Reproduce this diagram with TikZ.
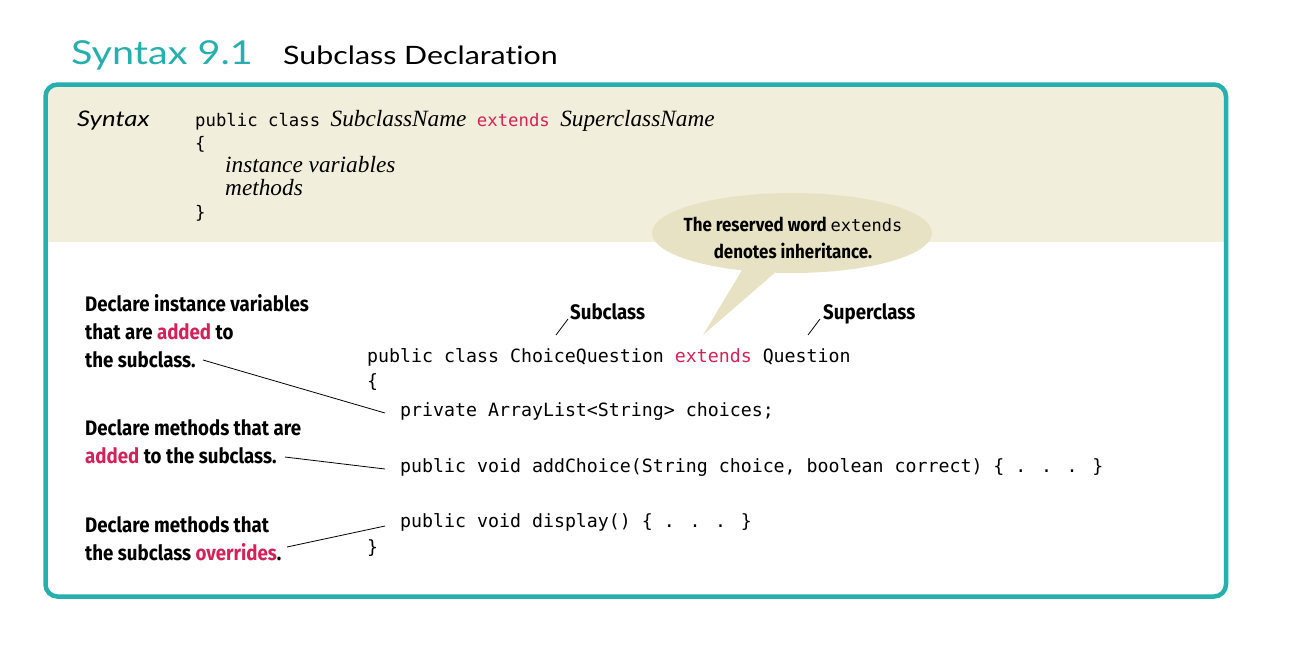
\documentclass[tikz,border=0pt]{standalone}
\usepackage{fontspec}
\usetikzlibrary{shapes.callouts,calc}
\newfontfamily\titlefont{Lato}[FakeStretch=1.2, Ligatures=NoCommon]
\newfontfamily\codefont{DejaVu Sans Mono}
\newfontfamily\annofont{Fira Sans}[FakeStretch=0.89]
\newfontfamily\itserif{Liberation Serif}
\definecolor{synteal}{HTML}{27AFAD}
\definecolor{synred}{HTML}{D2225A}
\definecolor{hdrbeige}{HTML}{F2EEDC}
\definecolor{bubbeige}{HTML}{E7E2C3}
\newcommand\redkw[1]{\textcolor{synred}{#1}}
\newcommand\itname[1]{{\itserif\itshape\fontsize{23.3}{23.3}\selectfont #1}}
\begin{document}
\begin{tikzpicture}[x=1pt,y=-1pt,
  titlea/.style={anchor=base west, inner sep=0, text=synteal, font=\titlefont\fontsize{33}{33}\selectfont},
  titleb/.style={anchor=base west, inner sep=0, font=\titlefont\fontsize{25.3}{25.3}\selectfont},
  hcode/.style={anchor=base west, inner sep=0, font=\codefont\fontsize{17.3}{17.3}\selectfont},
  hit/.style={anchor=base west, inner sep=0, font=\itserif\itshape\fontsize{23.3}{23.3}\selectfont},
  code/.style={anchor=base west, inner sep=0, font=\codefont\fontsize{18.25}{18.25}\selectfont},
  anno/.style={anchor=north west, inner sep=0, align=left, font=\annofont\bfseries\fontsize{21}{28}\selectfont},
  lbl/.style={anchor=base west, inner sep=0, font=\annofont\bfseries\fontsize{21}{21}\selectfont},
  lead/.style={draw=black, line width=0.8pt}]
\useasboundingbox (0,0) rectangle (1289,646);
% title
\node[titlea] (t1) at (71,64) {Syntax 9.1};
\node[titleb] (t2) at (283,64) {Subclass Declaration};
% frame
\fill[hdrbeige, rounded corners=12] (45.5,84.5) rectangle (1226,270);
\fill[white] (45.5,242) rectangle (1226,300);
\draw[synteal, line width=4.5, rounded corners=12] (45.5,84.5) rectangle (1226,596.5);
% header syntax
\node[anchor=base west, inner sep=0, font=\titlefont\itshape\fontsize{21.5}{21.5}\selectfont] (syn) at (77,126) {Syntax};
\node[hcode] (h1) at (195,126) {public class \itname{SubclassName} \redkw{extends} \itname{SuperclassName}};
\node[hcode] (h2) at (195,149) {\{};
\node[hit] (h3) at (225,172) {instance variables};
\node[hit] (h4) at (225,195) {methods};
\node[hcode] (h5) at (195,218) {\}};
% callout
\node[ellipse callout, fill=bubbeige, minimum width=280, minimum height=80, inner sep=0,
      callout absolute pointer={(703,335)}, callout pointer arc=14] (bub) at (792,233) {};
\node[inner sep=0, align=center, font=\annofont\bfseries\fontsize{19}{27}\selectfont] (bubtxt) at (793,238)
  {The reserved word {\mdseries\codefont\fontsize{17}{17}\selectfont extends}\\denotes inheritance.};
% labels
\node[lbl] (sub) at (570,319) {Subclass};
\node[lbl] (sup) at (823,319) {Superclass};
\coordinate (subt) at (556,335);
\coordinate (supt) at (808,335);
\draw[lead] (subt) -- ($(sub.base west)+(-2,0)$);
\draw[lead] (supt) -- ($(sup.base west)+(-3,0)$);
% code
\node[code] (c1) at (367,362) {public class ChoiceQuestion \redkw{extends} Question};
\node[code] (c2) at (367,387) {\{};
\node[code] (c3) at (400,416) {private ArrayList<String> choices;};
\node[code] (c4) at (400,472) {public void addChoice(String choice, boolean correct) \{ . . . \}};
\node[code] (c5) at (400,527) {public void display() \{ . . . \}};
\node[code] (c6) at (367,553) {\}};
% annotations
\node[anno] (a1) at (85,294.5) {Declare instance variables\\that are \redkw{added} to\\the subclass.};
\node[anno] (a2) at (85,419.5) {Declare methods that are\\\redkw{added} to the subclass.};
\node[anno] (a3) at (85,516.5) {Declare methods that\\the subclass \redkw{overrides}.};
\coordinate (p1) at (203,360);
\coordinate (q1) at (385,413);
\coordinate (p2) at (285,457);
\coordinate (q2) at (385,469);
\coordinate (p3) at (287,547);
\coordinate (q3) at (385,526);
\draw[lead] (p1) -- (q1);
\draw[lead] (p2) -- (q2);
\draw[lead] (p3) -- (q3);
\end{tikzpicture}
\end{document}
